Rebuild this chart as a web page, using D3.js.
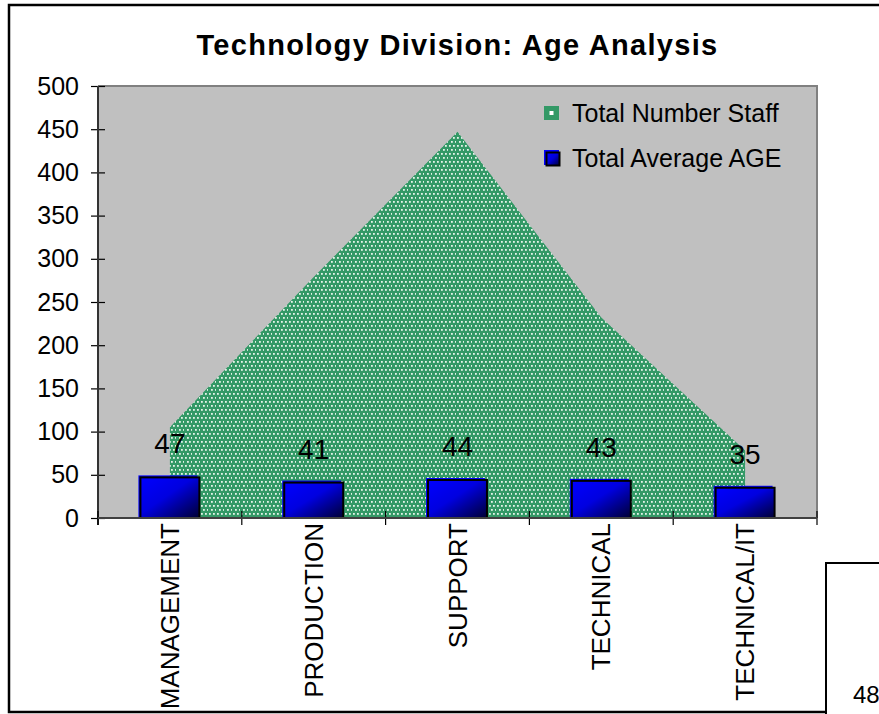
<!DOCTYPE html>
<html lang="en">
<head>
<meta charset="utf-8">
<style>
  body { margin:0; padding:0; background:#ffffff; }
  svg { display:block; font-family:"Liberation Sans", Arial, sans-serif; }
  .axis text { fill:#000; }
  .axis .domain { display:none; }
</style>
</head>
<body>
<div id="chart"></div>
<script src="https://cdn.jsdelivr.net/npm/d3@7/dist/d3.min.js"></script>
<script>
// data
var categories = ["MANAGEMENT", "PRODUCTION", "SUPPORT", "TECHNICAL", "TECHNICAL/IT"];
var staffTotal = [105, 279, 447, 232, 78];
var avgAge = [47, 41, 44, 43, 35];
var yTicks = [0, 50, 100, 150, 200, 250, 300, 350, 400, 450, 500];
var legendNames = ["Total Number Staff", "Total Average AGE"];
var titleText = "Technology Division: Age Analysis";

var W = 879, H = 714;
var plot = {left:98, top:86, right:817, bottom:518};

var svg = d3.select("#chart").append("svg")
  .attr("width", W).attr("height", H);

var defs = svg.append("defs");
// dotted fill of the area series
var pat = defs.append("pattern")
  .attr("id", "dots").attr("patternUnits", "userSpaceOnUse")
  .attr("width", 8).attr("height", 8);
pat.append("rect").attr("width", 8).attr("height", 8).attr("fill", "#339966");
[[1,1],[5,1],[3,5],[7,5]].forEach(function(p){
  pat.append("rect").attr("x", p[0]).attr("y", p[1])
    .attr("width", 1.8).attr("height", 1.8).attr("fill", "#e4f3e9");
});
var grad = defs.append("linearGradient")
  .attr("id", "barGrad").attr("x1", 0).attr("y1", 0).attr("x2", 1).attr("y2", 1);
grad.append("stop").attr("offset", "0%").attr("stop-color", "#0000ff");
grad.append("stop").attr("offset", "45%").attr("stop-color", "#0000e0");
grad.append("stop").attr("offset", "100%").attr("stop-color", "#000033");

// outer frame (runs off the right edge)
svg.append("path")
  .attr("d", "M" + (W + 5) + ",5 H9 V712 H826")
  .attr("fill", "none").attr("stroke", "#000").attr("stroke-width", 2.5);
// the small cut-off box in the corner
svg.append("path")
  .attr("d", "M826,714 V563 H" + (W + 5))
  .attr("fill", "none").attr("stroke", "#000").attr("stroke-width", 2);
svg.append("text").attr("x", 853).attr("y", 703)
  .attr("font-size", 24).text("48");

var x = d3.scaleBand().domain(categories).range([plot.left, plot.right]).padding(0);
var y = d3.scaleLinear().domain([0, 500]).range([plot.bottom, plot.top]);

function cx(c){ return x(c) + x.bandwidth() / 2; }

// plot area
svg.append("rect")
  .attr("x", plot.left).attr("y", plot.top)
  .attr("width", plot.right - plot.left).attr("height", plot.bottom - plot.top)
  .attr("fill", "#c0c0c0");
svg.append("path")
  .attr("d", "M" + plot.left + "," + plot.top + " H" + plot.right + " V" + plot.bottom)
  .attr("fill", "none").attr("stroke", "#808080").attr("stroke-width", 2);

// staff total as area
var area = d3.area()
  .x(function(d, i){ return cx(categories[i]); })
  .y0(y(0))
  .y1(function(d){ return y(d); });
svg.append("path").datum(staffTotal)
  .attr("d", area).attr("fill", "url(#dots)");

// average age bars
var bw = x.bandwidth() * 0.41;
var bars = svg.append("g").selectAll("g").data(avgAge).enter().append("g");
bars.append("rect")
  .attr("x", function(d, i){ return cx(categories[i]) - bw / 2 - 2; })
  .attr("y", function(d){ return y(d) - 2; })
  .attr("width", bw).attr("height", function(d){ return y(0) - y(d) + 2; })
  .attr("fill", "#0000ff");
bars.append("rect")
  .attr("x", function(d, i){ return cx(categories[i]) - bw / 2; })
  .attr("y", function(d){ return y(d); })
  .attr("width", bw).attr("height", function(d){ return y(0) - y(d); })
  .attr("fill", "url(#barGrad)").attr("stroke", "#000").attr("stroke-width", 2);
bars.append("text")
  .attr("x", function(d, i){ return cx(categories[i]); })
  .attr("y", function(d){ return y(d) - 24; })
  .attr("text-anchor", "middle").attr("font-size", 28)
  .text(function(d){ return d; });

// y axis, cross ticks
var yAxis = svg.append("g").attr("class", "axis")
  .attr("transform", "translate(" + plot.left + ",0)")
  .call(d3.axisLeft(y).tickValues(yTicks).tickSize(7).tickPadding(12));
yAxis.selectAll(".tick text").attr("font-size", 25);
yAxis.selectAll(".tick line").attr("x1", 7).attr("x2", -7)
  .attr("stroke", "#000").attr("stroke-width", 1.2);
svg.append("line")
  .attr("x1", plot.left).attr("x2", plot.left)
  .attr("y1", plot.top).attr("y2", plot.bottom + 7)
  .attr("stroke", "#333").attr("stroke-width", 2);

// x axis, labels rotated, ticks between categories
var xAxis = svg.append("g").attr("class", "axis")
  .attr("transform", "translate(0," + plot.bottom + ")")
  .call(d3.axisBottom(x).tickSize(0));
xAxis.selectAll(".tick text")
  .attr("font-size", 26)
  .attr("transform", "rotate(-90)")
  .attr("x", -5).attr("y", 0).attr("dy", "0.35em")
  .attr("text-anchor", "end");
var seps = categories.map(function(c){ return x(c); }).concat([plot.right]);
svg.append("g").selectAll("line").data(seps).enter().append("line")
  .attr("x1", function(d){ return d; }).attr("x2", function(d){ return d; })
  .attr("y1", plot.bottom - 7).attr("y2", plot.bottom + 7)
  .attr("stroke", "#000").attr("stroke-width", 1.2);
svg.append("line")
  .attr("x1", plot.left).attr("x2", plot.right)
  .attr("y1", plot.bottom).attr("y2", plot.bottom)
  .attr("stroke", "#404040").attr("stroke-width", 2);

// title
svg.append("text")
  .attr("x", (plot.left + plot.right) / 2).attr("y", 55)
  .attr("text-anchor", "middle").attr("font-size", 29).attr("font-weight", "bold")
  .attr("letter-spacing", 1.3)
  .text(titleText);

// legend
var lg = svg.append("g").attr("transform", "translate(544,0)");
lg.append("rect").attr("x", 0).attr("y", 106).attr("width", 15).attr("height", 14)
  .attr("fill", "#339966");
lg.append("rect").attr("x", 5.5).attr("y", 111).attr("width", 4).attr("height", 4)
  .attr("fill", "#ffffff");
lg.append("rect").attr("x", 0).attr("y", 150).attr("width", 15).attr("height", 15)
  .attr("fill", "#0000ff");
lg.append("rect").attr("x", 2.5).attr("y", 152.5).attr("width", 13).attr("height", 13)
  .attr("fill", "url(#barGrad)").attr("stroke", "#000").attr("stroke-width", 2);
lg.selectAll("text.lgt").data(legendNames).enter().append("text")
  .attr("class", "lgt")
  .attr("x", 28).attr("y", function(d, i){ return 122 + i * 45; })
  .attr("font-size", 25)
  .text(function(d){ return d; });
</script>
</body>
</html>
